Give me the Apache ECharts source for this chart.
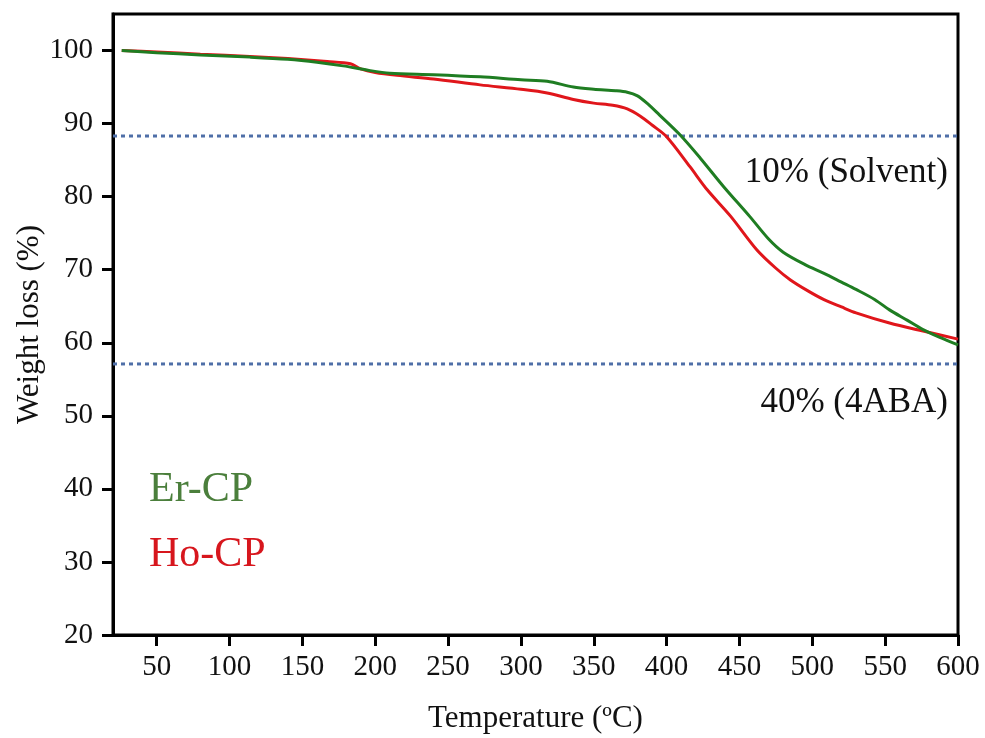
<!DOCTYPE html>
<html>
<head>
<meta charset="utf-8">
<script src="https://cdn.jsdelivr.net/npm/echarts@6/dist/echarts.min.js"></script>
<style>
html,body{margin:0;padding:0;background:#fff;}
#c{width:985px;height:738px;}
</style>
</head>
<body>
<div id="c"></div>
<script>
// Er-CP (green) TGA curve
var erTemp = [26, 50, 80, 114, 140, 160, 178, 195, 210, 240, 272, 300, 318, 336, 350, 365, 373, 380, 386.5, 395, 409, 423, 439, 457, 470, 480, 495, 508, 520, 530, 543, 553, 565, 576, 588, 600];
var erWeight = [100, 99.7, 99.4, 99.1, 98.8, 98.4, 97.9, 97.3, 96.9, 96.7, 96.4, 96.0, 95.8, 95.0, 94.7, 94.5, 94.3, 93.8, 92.8, 91.2, 88.5, 85.3, 81.4, 77.3, 74.2, 72.4, 70.7, 69.5, 68.3, 67.3, 65.9, 64.5, 63.1, 61.8, 60.7, 59.7];
// Ho-CP (red) TGA curve
var hoTemp = [26, 50, 80, 114, 140, 167, 183, 190, 200, 215, 240, 272, 300, 318, 336, 350, 363, 373, 382, 390, 400, 416, 428, 444, 462, 475, 485, 497, 508, 520, 530, 553, 576, 600];
var hoWeight = [100, 99.8, 99.5, 99.2, 98.9, 98.5, 98.2, 97.5, 97.0, 96.6, 96.1, 95.3, 94.7, 94.2, 93.3, 92.8, 92.5, 92.0, 91.0, 89.8, 88.2, 84.1, 80.9, 77.3, 72.7, 70.2, 68.6, 67.1, 65.9, 64.9, 64.1, 62.7, 61.6, 60.5];
// reference levels (dotted lines)
var refLevels = [88.3, 57.1];
var refLabels = ['10% (Solvent)', '40% (4ABA)'];
var seriesNames = ['Er-CP', 'Ho-CP'];
var xTicks = [50, 100, 150, 200, 250, 300, 350, 400, 450, 500, 550, 600];
var yTicks = [20, 30, 40, 50, 60, 70, 80, 90, 100];
var xRange = [20, 600];
var yRange = [20, 105];

function zip(a, b) { return a.map(function (v, i) { return [v, b[i]]; }); }

var chart = echarts.init(document.getElementById('c'));
var FONT = '"Liberation Serif", "Times New Roman", serif';

var refSeries = refLevels.map(function (lv) {
  return {
    type: 'line', data: [[xRange[0], lv], [xRange[1], lv]], symbol: 'none', silent: true,
    lineStyle: {color: '#4f6fa8', width: 3, type: [4, 4]}, z: 1
  };
});

chart.setOption({
  animation: false,
  backgroundColor: '#fff',
  grid: {left: 113, right: 27, top: 14, bottom: 103, outerBoundsMode: 'none', containLabel: false,
         show: true, borderColor: '#000', borderWidth: 3, backgroundColor: 'transparent'},
  xAxis: {
    type: 'value', min: xRange[0], max: xRange[1],
    name: 'Temperature (ºC)', nameLocation: 'middle', nameGap: 68, nameMoveOverlap: false,
    nameTextStyle: {fontFamily: FONT, fontSize: 31, color: '#111'},
    axisLine: {show: true, lineStyle: {color: '#000', width: 3}},
    axisTick: {show: true, inside: false, length: 11, lineStyle: {color: '#000', width: 3}, customValues: xTicks},
    axisLabel: {fontFamily: FONT, fontSize: 29, color: '#111', margin: 18, customValues: xTicks},
    splitLine: {show: false}
  },
  yAxis: {
    type: 'value', min: yRange[0], max: yRange[1],
    name: 'Weight loss (%)', nameLocation: 'middle', nameGap: 68, nameRotate: 90, nameMoveOverlap: false,
    nameTextStyle: {fontFamily: FONT, fontSize: 31, color: '#111'},
    axisLine: {show: true, lineStyle: {color: '#000', width: 3}},
    axisTick: {show: true, inside: false, length: 11, lineStyle: {color: '#000', width: 3}, customValues: yTicks},
    axisLabel: {fontFamily: FONT, fontSize: 29, color: '#111', margin: 20, customValues: yTicks},
    splitLine: {show: false}
  },
  series: refSeries.concat([
    {
      name: seriesNames[1], type: 'line', data: zip(hoTemp, hoWeight), symbol: 'none', smooth: 0.3,
      lineStyle: {color: '#e0161b', width: 3}, z: 3
    },
    {
      name: seriesNames[0], type: 'line', data: zip(erTemp, erWeight), symbol: 'none', smooth: 0.3,
      lineStyle: {color: '#1f7d22', width: 3}, z: 4
    }
  ]),
  graphic: [
    {type: 'text', x: 948, y: 173, style: {text: refLabels[0], font: '35px ' + FONT, fill: '#111', align: 'right', verticalAlign: 'middle'}},
    {type: 'text', x: 948, y: 403, style: {text: refLabels[1], font: '35px ' + FONT, fill: '#111', align: 'right', verticalAlign: 'middle'}},
    {type: 'text', x: 149, y: 490, style: {text: seriesNames[0], font: '42px ' + FONT, fill: '#4b7f3c', align: 'left', verticalAlign: 'middle'}},
    {type: 'text', x: 149, y: 555, style: {text: seriesNames[1], font: '42px ' + FONT, fill: '#d7161d', align: 'left', verticalAlign: 'middle'}}
  ]
});
</script>
</body>
</html>
